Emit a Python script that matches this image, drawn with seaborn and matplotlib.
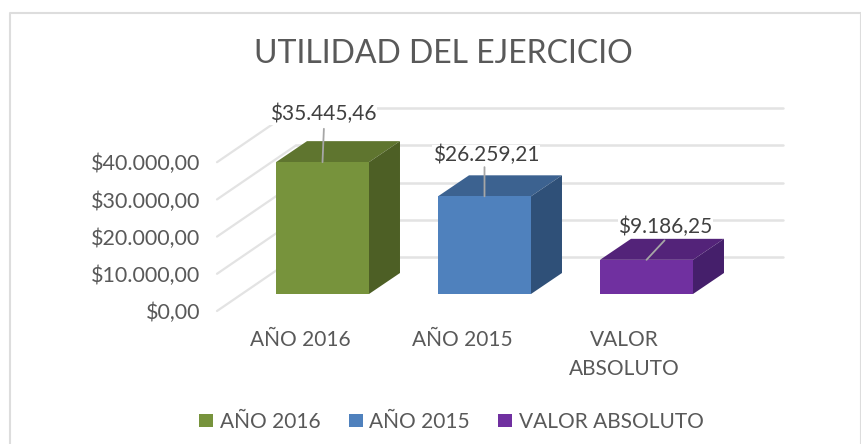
import matplotlib
matplotlib.use("Agg")
import matplotlib.pyplot as plt
from matplotlib.lines import Line2D
from matplotlib.patches import Polygon
import numpy as np
import pandas as pd
import seaborn as sns

categorias = ["AÑO 2016", "AÑO 2015", "VALOR ABSOLUTO"]
valores = [35445.46, 26259.21, 9186.25]
etiquetas = ["$35.445,46", "$26.259,21", "$9.186,25"]
ticks_valor = [0, 10000, 20000, 30000, 40000]
ticks_texto = ["$0,00", "$10.000,00", "$20.000,00", "$30.000,00", "$40.000,00"]
ticks_categoria = ["AÑO 2016", "AÑO 2015", "VALOR\nABSOLUTO"]

color_frente = ["#77933C", "#4F81BD", "#7030A0"]
color_techo = ["#5F752F", "#3C6290", "#532379"]
color_lado = ["#4D5F25", "#2F5078", "#451F6B"]
GRIS_TEXTO = "#595959"
GRIS_GRID = "#E3E3E3"

# escala en pixeles de la figura original
W, H = 861, 444
PX_CAT = 162
PX_VALOR = 0.00372


def px_y(px):
    # pixeles por encima de la base frontal de las barras -> unidades de valor
    return px / PX_VALOR


sns.set_theme(style="white")
plt.rcParams["font.family"] = ["Lato", "DejaVu Sans"]

fig = plt.figure(figsize=(W / 100, H / 100), dpi=100)
ax = fig.add_axes([217 / W, 1 - 311 / H, 566 / W, 204 / H])

df = pd.DataFrame({"Categoria": categorias, "Valor": valores})
sns.barplot(
    data=df,
    x="Categoria",
    y="Valor",
    hue="Categoria",
    palette=color_frente,
    dodge=False,
    width=0.574,
    saturation=1,
    linewidth=0,
    legend=True,
    ax=ax,
    zorder=4,
)

x_min, x_max = (217 - 322.5) / PX_CAT, (783 - 322.5) / PX_CAT
ax.set_xlim(x_min, x_max)
ax.set_ylim(px_y(-17), px_y(187))

# piso y pared del fondo: lineas de guia en perspectiva
prof_x, prof_y = 79 / PX_CAT, px_y(54)
base_frente = px_y(-17)
for v in ticks_valor:
    y0 = base_frente + v
    ax.plot([x_min, x_min + prof_x], [y0, y0 + prof_y], color=GRIS_GRID, lw=1.6, zorder=1, clip_on=False)
    ax.plot([x_min + prof_x, x_max], [y0 + prof_y, y0 + prof_y], color=GRIS_GRID, lw=1.8, zorder=1, clip_on=False)

# caras de profundidad de cada barra
dx, dy = 31 / PX_CAT, px_y(21)
barras = [p for p in ax.patches if p.get_height() > 0]
for i, bar in enumerate(barras):
    x0, x1 = bar.get_x(), bar.get_x() + bar.get_width()
    v = bar.get_height()
    ax.add_patch(Polygon([(x0, v), (x1, v), (x1 + dx, v + dy), (x0 + dx, v + dy)],
                         facecolor=color_techo[i], edgecolor="none", zorder=3))
    ax.add_patch(Polygon([(x1, 0), (x1 + dx, dy), (x1 + dx, v + dy), (x1, v)],
                         facecolor=color_lado[i], edgecolor="none", zorder=3))

# etiquetas con linea guia (desplazamientos en puntos)
offset_texto = [(0.5, 34.5), (1, 29.5), (13.5, 24)]
offset_linea = [(1, 24), (0, 21), (13, 14)]
for i, v in enumerate(valores):
    ax.annotate(etiquetas[i], xy=(i, v), xytext=offset_texto[i], textcoords="offset points",
                ha="center", va="center", fontsize=15, color="#404040", zorder=5,
                bbox=dict(facecolor="white", edgecolor="none", pad=0.5), annotation_clip=False)
    ax.annotate("", xy=(i, v), xytext=offset_linea[i], textcoords="offset points",
                arrowprops=dict(arrowstyle="-", color="#A6A6A6", lw=1.3, shrinkA=0, shrinkB=0), zorder=6)

ax.set_xticks(np.arange(3) - 22 / PX_CAT, ticks_categoria, fontsize=15, color=GRIS_TEXTO, linespacing=1.57)
ax.set_yticks([base_frente + v for v in ticks_valor], ticks_texto, fontsize=15.5, color=GRIS_TEXTO)
ax.tick_params(axis="y", length=0, pad=12)
ax.tick_params(axis="x", length=0, pad=13.5)
ax.set_xlabel("")
ax.set_ylabel("")
sns.despine(ax=ax, left=True, bottom=True)

sns.move_legend(
    ax,
    "lower left",
    bbox_to_anchor=(199 / W, 1 - 432 / H),
    bbox_transform=fig.transFigure,
    ncol=3,
    title=None,
    frameon=False,
    fontsize=15,
    borderpad=0,
    borderaxespad=0,
    handlelength=0.67,
    handleheight=0.63,
    handletextpad=0.33,
    columnspacing=1.35,
    labelcolor=GRIS_TEXTO,
)

fig.text(443 / W, 1 - 54 / H, "UTILIDAD DEL EJERCICIO", ha="center", va="center", fontsize=23, color=GRIS_TEXTO)

# marco del grafico
marco_x = [10 / W, 10 / W, 1, 1]
marco_y = [0, 1 - 13.5 / H, 1 - 13.5 / H, 0]
fig.add_artist(Line2D(marco_x, marco_y, color="#DDDDDD", lw=1.5))

fig.savefig("out.png", dpi=100)
plt.close(fig)
